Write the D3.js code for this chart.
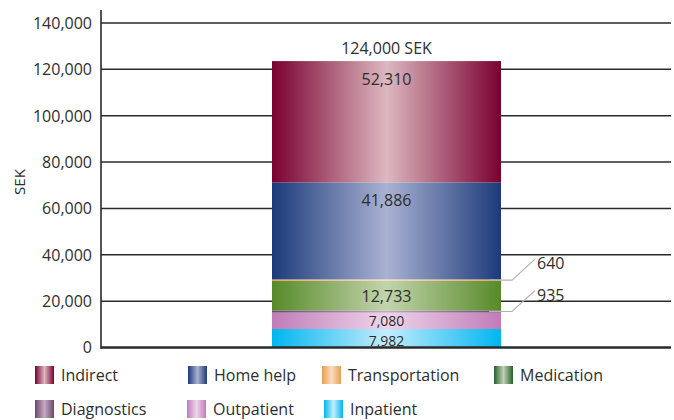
<!DOCTYPE html>
<html><head><meta charset="utf-8">
<script src="https://cdn.jsdelivr.net/npm/d3@7"></script>
<style>body{margin:0;background:#fff}svg{display:block}text{font-family:"Open Sans",sans-serif;fill:#2e2e2e}</style>
</head><body>
<script>
// Data (bottom to top)
const categories = ["Inpatient","Outpatient","Diagnostics","Medication","Transportation","Home help","Indirect"];
const values = [7982, 7080, 935, 12733, 640, 41886, 52310];
const totalLabel = "124,000 SEK";
const yTicks = [0,20000,40000,60000,80000,100000,120000,140000];
const legendOrder = ["Indirect","Home help","Transportation","Medication","Diagnostics","Outpatient","Inpatient"];
const colors = {
  "Indirect":["#7a0030","#dcb8c0"],
  "Home help":["#1c3a7a","#aab2d2"],
  "Transportation":["#e8a050","#f8dcc0"],
  "Medication":["#578a2a","#c2d4ac"],
  "Diagnostics":["#6a4868","#c4aac4"],
  "Outpatient":["#c07cb8","#eed4ea"],
  "Inpatient":["#00b6f0","#c4ecfc"]
};
const legendColors = Object.assign({}, colors, {"Medication":["#25602c","#c2d0b4"]});

const W=674,H=420;
const svg=d3.select("body").append("svg").attr("width",W).attr("height",H);
const defs=svg.append("defs");
function grad(id,c){
  const g=defs.append("linearGradient").attr("id",id).attr("x1","0%").attr("x2","100%").attr("y1","0%").attr("y2","0%");
  g.append("stop").attr("offset","0%").attr("stop-color",c[0]);
  g.append("stop").attr("offset","50%").attr("stop-color",c[1]);
  g.append("stop").attr("offset","100%").attr("stop-color",c[0]);
}
categories.forEach((c,i)=>{grad("g"+i,colors[c]);grad("lg"+i,legendColors[c]);});

const x0=101,x1=671;
const y=d3.scaleLinear().domain([0,140000]).range([347.5,23]);

// grid
svg.append("g").selectAll("line").data(yTicks.slice(1)).join("line")
  .attr("x1",x0).attr("x2",x1).attr("y1",d=>y(d)).attr("y2",d=>y(d))
  .attr("stroke","#2a2a2a").attr("stroke-width",1.5);

// y axis labels
const ax=svg.append("g").attr("transform",`translate(${x0},0)`)
  .call(d3.axisLeft(y).tickValues(yTicks).tickSize(0).tickPadding(9).tickFormat(d3.format(",")));
ax.select(".domain").remove();
ax.selectAll("text").style("font-family",'"Open Sans",sans-serif').style("font-size","16px").attr("fill","#2e2e2e").attr("dy","0.34em");
svg.append("line").attr("x1",x0).attr("x2",x0).attr("y1",10).attr("y2",349).attr("stroke","#2a2a2a").attr("stroke-width",1.6);
svg.append("text").attr("transform","translate(25,182) rotate(-90)").attr("text-anchor","middle").style("font-size","15px").text("SEK");

// stacked bar
const barX=272,barW=229;
let cum=0;
const segs=values.map((v,i)=>{const s={cat:categories[i],v,y0:cum,y1:cum+v,i};cum+=v;return s;});
svg.append("g").selectAll("rect").data(segs).join("rect")
  .attr("x",barX).attr("width",barW)
  .attr("y",d=>y(d.y1)).attr("height",d=>y(d.y0)-y(d.y1))
  .attr("fill",d=>`url(#g${d.i})`);
svg.append("line").attr("x1",x0).attr("x2",x1).attr("y1",y(0)).attr("y2",y(0)).attr("stroke","#2a2a2a").attr("stroke-width",2.4);

// segment labels
const inside=segs.filter(d=>d.v>2000);
const labelY=d=>{
  if(d.cat==="Indirect"||d.cat==="Home help") return y(d.y1)+24;
  if(d.cat==="Inpatient") return y(0)-1.5;
  if(d.cat==="Outpatient") return y(d.y1)+13;
  return y((d.y0+d.y1)/2)+6;
};
const labelSize=d=>(d.cat==="Inpatient"||d.cat==="Outpatient")?"14px":"16px";
svg.append("g").selectAll("text").data(inside).join("text")
  .attr("x",barX+barW/2).attr("y",labelY)
  .attr("text-anchor","middle").style("font-size",labelSize).text(d=>d3.format(",")(d.v));
svg.append("text").attr("x",barX+barW/2).attr("y",y(cum)-7).attr("text-anchor","middle").style("font-size","16px").text(totalLabel);

// leader labels for small segments
const small=segs.filter(d=>d.v<2000);
small.forEach(d=>{
  const ym=y((d.y0+d.y1)/2);
  svg.append("polyline").attr("points",`${barX+barW-12},${ym} ${barX+barW+11},${ym} ${barX+barW+34},${ym-21}`)
    .attr("fill","none").attr("stroke","#b8b0b4").attr("stroke-width",1.2);
  svg.append("text").attr("x",barX+barW+36).attr("y",ym-11).style("font-size","16px").text(d3.format(",")(d.v));
});

// legend
const legPos=[[35,366],[188,366],[322,366],[494,366],[35,400],[187,400],[324,400]];
const lg=svg.append("g");
legendOrder.forEach((c,k)=>{
  const i=categories.indexOf(c);
  const [lx,ly]=legPos[k];
  lg.append("rect").attr("x",lx).attr("y",ly).attr("width",19).attr("height",18).attr("fill",`url(#lg${i})`);
  lg.append("text").attr("x",lx+26).attr("y",ly+15).style("font-size","16px").text(c);
});
</script>
</body></html>
